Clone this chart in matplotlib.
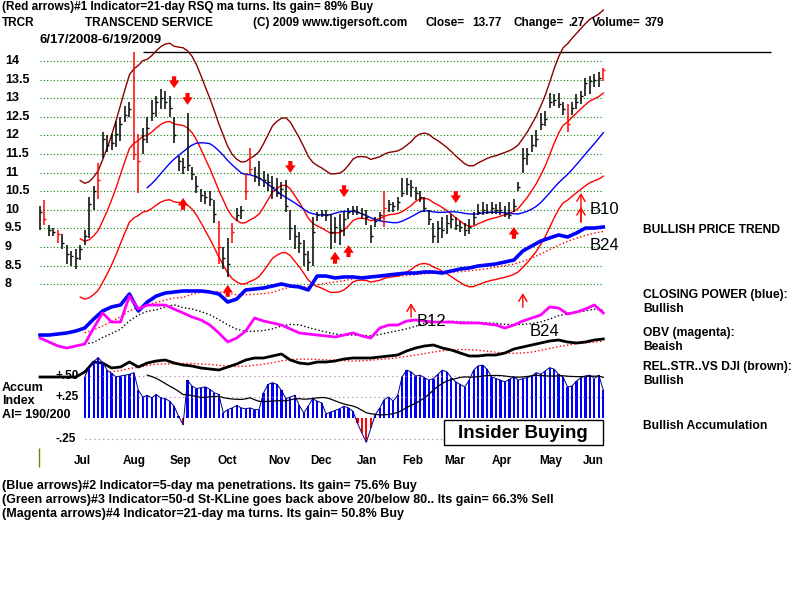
import numpy as np
import pandas as pd
import matplotlib
matplotlib.use('Agg')
import matplotlib.pyplot as plt
from matplotlib.patches import Rectangle

plt.rcParams['font.family'] = ['Liberation Sans', 'DejaVu Sans']

# TRCR bars, every second session 6/17/2008 - 6/19/2009
close = [9.95, 9.75, 9.45, 9.40, 9.35, 9.10, 8.80, 8.75, 8.70, 8.95,
         9.30, 10.15, 10.50, 10.80, 11.90, 11.75, 11.80, 12.05, 12.30, 12.55,
         12.70, 11.50, 11.30, 11.90, 12.20, 12.60, 12.90, 13.00, 12.90, 12.75,
         12.00, 11.30, 11.15, 11.20, 10.95, 10.65, 10.40, 10.35, 10.30, 9.90,
         9.00, 8.70, 8.55, 9.40, 9.85, 10.00, 10.50, 11.10, 10.90, 10.85,
         10.80, 10.75, 10.60, 10.45, 10.55, 10.10, 9.50, 9.30, 9.10, 8.80,
         8.60, 9.40, 9.85, 9.90, 9.85, 9.40, 9.55, 9.45, 9.75, 9.95,
         10.00, 9.95, 9.90, 9.80, 9.30, 9.70, 9.85, 10.05, 10.15, 10.10,
         10.20, 10.45, 10.70, 10.60, 10.45, 10.35, 10.05, 9.75, 9.30, 9.50,
         9.45, 9.65, 9.75, 9.60, 9.55, 9.45, 9.55, 9.80, 9.95, 10.00,
         9.95, 10.05, 10.00, 10.00, 9.90, 9.85, 10.10, 10.60, 11.40, 11.50,
         11.75, 11.90, 12.30, 12.45, 12.90, 12.95, 12.85, 12.70, 12.30, 12.75,
         12.90, 13.05, 13.40, 13.45, 13.50, 13.55, 13.77]
high = [10.10, 10.25, 9.60, 9.50, 9.45, 9.35, 9.05, 8.90, 8.95, 9.05,
        9.45, 10.35, 10.65, 11.25, 12.10, 12.00, 12.05, 12.40, 12.50, 12.80,
        12.90, 14.25, 12.05, 12.20, 12.50, 12.95, 13.05, 13.25, 13.20, 13.05,
        12.50, 11.45, 11.40, 12.60, 11.15, 10.90, 10.55, 10.50, 10.50, 10.25,
        9.70, 9.00, 9.25, 9.65, 10.05, 10.10, 11.00, 11.65, 11.15, 11.30,
        11.05, 10.95, 10.90, 10.85, 10.75, 10.80, 10.00, 9.60, 9.40, 9.20,
        8.90, 9.80, 9.95, 10.00, 10.00, 9.90, 9.80, 9.90, 9.95, 10.05,
        10.10, 10.10, 10.05, 10.00, 9.60, 9.80, 9.95, 10.50, 10.25, 10.20,
        10.35, 10.85, 10.85, 10.80, 10.60, 10.50, 10.35, 10.00, 9.65, 9.70,
        9.80, 9.85, 9.90, 9.80, 9.70, 9.65, 9.75, 9.95, 10.15, 10.20,
        10.15, 10.20, 10.15, 10.20, 10.10, 10.20, 10.30, 10.75, 11.65, 11.65,
        12.00, 12.15, 12.60, 12.65, 13.15, 13.10, 13.15, 12.90, 12.85, 12.90,
        13.10, 13.20, 13.55, 13.60, 13.65, 13.70, 13.80]
low = [9.45, 9.60, 9.30, 9.30, 9.10, 8.95, 8.55, 8.50, 8.40, 8.65,
       9.05, 9.25, 10.00, 10.30, 11.40, 11.55, 11.60, 11.70, 11.85, 12.35,
       12.50, 11.35, 10.45, 11.50, 11.80, 12.40, 12.50, 12.70, 12.70, 12.50,
       11.80, 11.05, 10.95, 11.05, 10.80, 10.45, 10.20, 10.15, 10.10, 9.65,
       8.55, 8.40, 8.20, 9.10, 9.70, 9.75, 10.25, 10.95, 10.75, 10.65,
       10.60, 10.50, 10.30, 10.35, 10.30, 9.95, 9.20, 8.95, 8.85, 8.50,
       8.35, 8.50, 9.70, 9.80, 9.70, 8.95, 9.10, 9.05, 9.30, 9.75,
       9.85, 9.85, 9.75, 9.60, 9.10, 9.55, 9.70, 9.55, 9.95, 9.95,
       10.00, 10.35, 10.40, 10.35, 10.25, 10.20, 9.95, 9.60, 9.10, 9.10,
       9.25, 9.35, 9.50, 9.45, 9.40, 9.30, 9.35, 9.60, 9.85, 9.85,
       9.90, 9.90, 9.90, 9.85, 9.80, 9.75, 9.95, 10.50, 11.00, 11.20,
       11.55, 11.70, 12.15, 12.25, 12.75, 12.80, 12.75, 12.55, 12.10, 12.55,
       12.70, 12.85, 13.05, 13.10, 13.30, 13.30, 13.45]
red_bars = [1, 4, 13, 21, 22, 40, 43, 46, 47, 77, 118, 126]

# indicators, one value per 4 sessions
closing_power = [11.5, 11.5, 12.3, 13.1, 14.6, 16.9, 23.8, 30.0, 33.1, 34.6,
                 43.1, 30.0, 36.9, 41.5, 43.8, 44.6, 45.4, 45.4, 45.4, 44.6,
                 43.1, 36.9, 39.2, 46.2, 46.9, 47.7, 49.2, 50.8, 49.2, 48.5,
                 46.2, 56.9, 56.9, 55.4, 56.2, 56.2, 55.4, 56.2, 56.9, 57.7,
                 58.5, 59.2, 59.2, 60.0, 60.0, 59.2, 60.8, 62.3, 63.1, 64.6,
                 65.4, 66.2, 67.7, 69.2, 76.2, 80.0, 83.8, 86.2, 88.5, 86.9,
                 90.0, 93.8, 93.8, 94.6]
obv = [9.2, 6.2, 3.1, 1.5, 3.1, 4.6, 16.9, 28.5, 21.5, 21.5,
       41.5, 31.5, 34.6, 34.6, 34.6, 31.5, 28.5, 25.4, 23.1, 19.2,
       13.1, 6.2, 9.2, 14.6, 24.6, 22.3, 20.8, 19.2, 16.2, 13.1,
       12.3, 11.5, 10.8, 10.0, 11.5, 13.1, 10.8, 9.2, 16.9, 19.2,
       19.2, 22.3, 23.1, 22.3, 21.5, 21.5, 21.5, 20.8, 20.8, 20.8,
       20.0, 19.2, 16.9, 19.2, 22.3, 24.6, 26.9, 33.1, 32.3, 27.7,
       29.2, 31.5, 34.6, 28.5]
rel_str = [0.93, 0.93, 0.93, 0.93, 0.93, 0.98, 1.08, 1.07, 1.02, 1.03,
           1.08, 1.03, 1.07, 1.09, 1.10, 1.07, 1.05, 1.04, 1.02, 1.01,
           1.00, 1.03, 1.06, 1.10, 1.12, 1.12, 1.14, 1.16, 1.10, 1.07,
           1.06, 1.08, 1.08, 1.09, 1.11, 1.12, 1.12, 1.12, 1.13, 1.14,
           1.15, 1.19, 1.22, 1.24, 1.25, 1.22, 1.20, 1.17, 1.14, 1.14,
           1.15, 1.15, 1.17, 1.21, 1.23, 1.25, 1.27, 1.29, 1.30, 1.28,
           1.27, 1.28, 1.30, 1.31]
accum = [np.nan] * 10 + [
    0.49, 0.60, 0.67, 0.72, 0.66, 0.57, 0.53, 0.49, 0.50, 0.51,
    0.52, 0.54, 0.33, 0.25, 0.27, 0.24, 0.28, 0.24, 0.23, 0.20,
    0.14, 0.02, -0.08, 0.45, 0.38, 0.35, 0.36, 0.37, 0.34, 0.30,
    0.28, 0.06, 0.10, 0.12, 0.15, 0.12, 0.11, 0.12, 0.10, 0.10,
    0.30, 0.40, 0.42, 0.40, 0.33, 0.23, 0.25, 0.27, 0.15, 0.06,
    0.14, 0.23, 0.20, 0.18, 0.05, 0.07, 0.09, 0.11, 0.14, 0.12,
    0.08, -0.06, -0.18, -0.29, -0.12, 0.04, 0.12, 0.22, 0.25, 0.20,
    0.27, 0.49, 0.57, 0.55, 0.50, 0.51, 0.48, 0.45, 0.47, 0.52,
    0.57, 0.55, 0.48, 0.43, 0.40, 0.37, 0.45, 0.57, 0.62, 0.63,
    0.58, 0.49, 0.47, 0.45, 0.43, 0.46, 0.49, 0.45, 0.47, 0.48,
    0.50, 0.54, 0.52, 0.56, 0.60, 0.58, 0.52, 0.49, 0.37, 0.38,
    0.44, 0.48, 0.50, 0.51, 0.47, 0.51, 0.33]

months = ['Jul', 'Aug', 'Sep', 'Oct', 'Nov', 'Dec', 'Jan', 'Feb', 'Mar', 'Apr', 'May', 'Jun']
month_pos = [9.4, 21.0, 31.5, 41.8, 53.5, 62.9, 73.2, 83.4, 92.8, 103.4, 114.3, 123.7]
price_levels = [8, 8.5, 9, 9.5, 10, 10.5, 11, 11.5, 12, 12.5, 13, 13.5, 14]

# signal arrows (bar index, price of the tip)
down_idx = [30, 33, 56, 68, 93]
down_tip = [13.27, 12.82, 10.99, 10.34, 10.18]
up_idx = [32, 42, 66, 69, 106]
up_tip = [10.32, 7.98, 8.87, 9.05, 9.54]
thin_idx = [83, 108, 121, 121]
thin_tip = [7.49, 7.76, 10.45, 10.08]
thin_tail = [7.11, 7.38, 9.67, 9.67]

n = len(close)
idx = np.arange(n)
kx = np.arange(0, n, 2)
c = pd.Series(close)
ma21 = c.rolling(10).mean()
ma50 = c.rolling(25).mean()

fig = plt.figure(figsize=(8, 6), dpi=100, facecolor='white')


def layer(lo, hi):
    a = fig.add_axes([0, 0, 1, 1], facecolor='none')
    a.set_xlim(-8.95, 170.0)
    a.set_ylim(lo, hi)
    a.axis('off')
    return a


# ---- price panel
ax = layer(-0.49, 15.64)
ax.hlines(price_levels, 0, n - 1, colors='#008000', linestyles=(0, (1, 2)), lw=0.8)
for p in price_levels:
    ax.text(0.006, p, f'{p:g}', transform=ax.get_yaxis_transform(),
            fontsize=9, fontweight='bold', va='center')
ax.hlines(max(high), 23, 163.5, colors='black', lw=1)

ax.plot(idx, ma21 * 1.17, color='#8b0000', lw=1)
ax.plot(idx, ma21 * 0.83, color='red', lw=1)
ax.plot(idx, ma21, color='red', lw=1)
ax.plot(idx, ma50, color='blue', lw=1)

cols = ['red' if i in red_bars else 'black' for i in idx]
ax.vlines(idx, low, high, colors=cols, lw=1.1)
ax.hlines(close, idx, idx + 0.45, colors=cols, lw=1)

thick = dict(arrowstyle='simple,head_length=0.55,head_width=0.75,tail_width=0.3',
             fc='red', ec='none', mutation_scale=10, shrinkA=0, shrinkB=0)
for i, t in zip(down_idx, down_tip):
    ax.annotate('', xy=(i, t), xytext=(i, t + 0.32), arrowprops=thick)
for i, t in zip(up_idx, up_tip):
    ax.annotate('', xy=(i, t), xytext=(i, t - 0.32), arrowprops=thick)
for i, t, b in zip(thin_idx, thin_tip, thin_tail):
    ax.annotate('', xy=(i, t), xytext=(i, b),
                arrowprops=dict(arrowstyle='->,head_length=0.5,head_width=0.3',
                                color='red', lw=1, shrinkA=0, shrinkB=0))

# ---- closing power / OBV
ax2 = layer(-192.31, 269.23)
cp_s = pd.Series(closing_power)
obv_s = pd.Series(obv)
ax2.plot(kx, cp_s.rolling(6).mean(), color='red', ls=':', lw=1)
ax2.plot(kx, obv_s.rolling(6).mean(), color='black', ls=':', lw=1)
ax2.plot(kx, closing_power, color='blue', lw=2.6)
ax2.plot(kx, obv, color='magenta', lw=2)

# ---- relative strength vs DJI
ax3 = layer(-1.3, 4.7)
ax3.plot(kx, pd.Series(rel_str).rolling(8).mean(), color='red', ls=':', lw=1)
ax3.plot(kx, rel_str, color='black', lw=2)

# ---- accumulation index
ax4 = layer(-2.1667, 4.976)
ai = np.array(accum, dtype=float)
ok = ~np.isnan(ai)
ax4.hlines([0.5, 0.25, -0.25], 10, n - 1, colors='#b070b0', linestyles=(0, (1, 3)), lw=0.8)
ax4.bar(idx[ok], ai[ok], width=0.5, color=['blue' if v >= 0 else 'red' for v in ai[ok]])
ax4.plot(idx, ai, color='#000080', lw=0.7)
ax4.plot(idx, pd.Series(ai).rolling(15).mean(), color='black', lw=0.9)
for lv, lab in zip([0.5, 0.25, -0.25], ['+.50', '+.25', '-.25']):
    ax4.text(0.069, lv, lab, transform=ax4.get_yaxis_transform(),
             fontsize=8.5, fontweight='bold', va='center')
for m, p in zip(months, month_pos):
    ax4.text(p, -0.51, m, ha='center', va='center', fontsize=8.5, fontweight='bold')
ax4.vlines(-0.2, -0.58, -0.36, colors='#808000', lw=1)


# ---- text
def put(x, y, s, **kw):
    kw.setdefault('fontsize', 8.5)
    kw.setdefault('fontweight', 'bold')
    fig.text(x / 800, 1 - y / 600, s, va='center', **kw)


put(2, 7, '(Red arrows)#1 Indicator=21-day RSQ ma turns. Its gain= 89% Buy')
put(2, 23, 'TRCR')
put(85, 23, 'TRANSCEND SERVICE')
put(253, 23, '(C) 2009 www.tigersoft.com')
put(426, 23, 'Close=')
put(472, 23, '13.77')
put(513, 23, 'Change=')
put(568, 23, '.27')
put(592, 23, 'Volume=')
put(645, 23, '379')
put(40, 40, '6/17/2008-6/19/2009', fontsize=9.5)

put(590, 210, 'B10', fontsize=12, fontweight='normal')
put(590, 246, 'B24', fontsize=12, fontweight='normal')
put(417, 321, 'B12', fontsize=12, fontweight='normal')
put(530, 332, 'B24', fontsize=12, fontweight='normal')

put(643, 230, 'BULLISH PRICE TREND', fontsize=8.7)
put(643, 295, 'CLOSING POWER (blue):', fontsize=8.7)
put(643, 309, 'Bullish', fontsize=8.7)
put(643, 333, 'OBV (magenta):', fontsize=8.7)
put(643, 347, 'Beaish', fontsize=8.7)
put(643, 367, 'REL.STR..VS DJI (brown):', fontsize=8.7)
put(643, 381, 'Bullish', fontsize=8.7)
put(643, 426, 'Bullish Accumulation', fontsize=8.7)

put(2, 388, 'Accum', fontsize=9)
put(2, 401, 'Index', fontsize=9)
put(2, 415, 'AI= 190/200', fontsize=9)

fig.patches.append(Rectangle((444 / 800, 1 - 445 / 600), 159 / 800, 25 / 600,
                             transform=fig.transFigure, fc='white', ec='black', lw=1))
put(523, 433, 'Insider Buying', fontsize=13.5, ha='center')

put(2, 486, '(Blue arrows)#2 Indicator=5-day ma penetrations. Its gain= 75.6% Buy', fontsize=9)
put(2, 500, '(Green arrows)#3 Indicator=50-d St-KLine goes back above 20/below 80.. Its gain= 66.3% Sell', fontsize=9)
put(2, 514, '(Magenta arrows)#4 Indicator=21-day ma turns. Its gain= 50.8% Buy', fontsize=9)

fig.savefig('out.png', dpi=100, facecolor='white')
